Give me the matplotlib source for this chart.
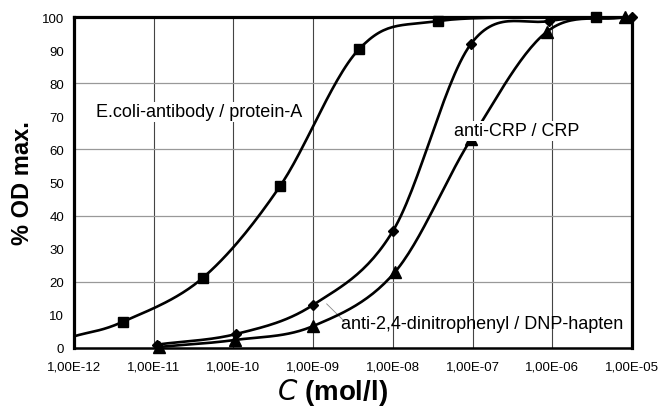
import matplotlib
matplotlib.use("Agg")
import matplotlib.pyplot as plt
import numpy as np

plt.rcParams['font.family'] = ['Liberation Sans', 'DejaVu Sans']

# data (x in mol/l, y in % OD max.)
ecoli_x = [1e-12, 4.1e-12, 4.1e-11, 3.85e-10, 3.77e-9, 3.7e-8, 3.5e-6]
ecoli_y = [3.5, 7.9, 21.1, 48.9, 90.3, 98.8, 100]

crp_x = [1.1e-11, 1.08e-10, 1.0e-9, 1.0e-8, 9.5e-8, 9.1e-7, 1e-5]
crp_y = [1.0, 4.2, 13.0, 35.3, 91.8, 98.8, 100]

dnp_x = [1.17e-11, 1.05e-10, 1.0e-9, 1.07e-8, 9.5e-8, 8.5e-7, 8.1e-6]
dnp_y = [0.3, 2.4, 6.6, 23.0, 63.0, 95.5, 100]

xticks = [1e-12, 1e-11, 1e-10, 1e-9, 1e-8, 1e-7, 1e-6, 1e-5]
xtick_labels = ["1,00E-12", "1,00E-11", "1,00E-10", "1,00E-09",
                "1,00E-08", "1,00E-07", "1,00E-06", "1,00E-05"]
yticks = list(range(0, 101, 10))
hgrid = [20, 40, 60, 80]


def smooth(xs, ys, n=30):
    # catmull-rom through the points, in log-x space
    lx = np.log10(xs)
    y = np.asarray(ys, dtype=float)
    px = np.concatenate([[2 * lx[0] - lx[1]], lx, [2 * lx[-1] - lx[-2]]])
    py = np.concatenate([[2 * y[0] - y[1]], y, [2 * y[-1] - y[-2]]])
    outx, outy = [], []
    t = np.linspace(0, 1, n)
    for i in range(1, len(px) - 2):
        for P, out in ((px, outx), (py, outy)):
            p0, p1, p2, p3 = P[i - 1], P[i], P[i + 1], P[i + 2]
            out.extend(0.5 * ((2 * p1) + (-p0 + p2) * t
                              + (2 * p0 - 5 * p1 + 4 * p2 - p3) * t ** 2
                              + (-p0 + 3 * p1 - 3 * p2 + p3) * t ** 3))
    return 10 ** np.array(outx), np.minimum(np.array(outy), 100)


fig = plt.figure(figsize=(6.63, 4.10), dpi=100)
ax = fig.add_axes([0.1116, 0.149, 0.8416, 0.807])

for v in xticks[1:-1]:
    ax.axvline(v, color='#444444', lw=0.8, zorder=1)
for v in hgrid:
    ax.axhline(v, color='#999999', lw=0.9, zorder=1)

# first E.coli point sits on the axis, no marker there
for xs, ys, m, ms, skip in ((ecoli_x, ecoli_y, 's', 7, 1),
                            (crp_x, crp_y, 'D', 5.5, 0),
                            (dnp_x, dnp_y, '^', 8, 0)):
    sx, sy = smooth(xs, ys)
    ax.plot(sx, sy, color='black', lw=1.9, zorder=3)
    ax.plot(xs[skip:], ys[skip:], ls='none', marker=m, ms=ms, color='black',
            zorder=4, clip_on=False)

ax.set_xscale('log')
ax.set_xlim(1e-12, 1e-5)
ax.set_ylim(0, 100)
ax.set_xticks(xticks)
ax.set_xticklabels(xtick_labels)
ax.minorticks_off()
ax.set_yticks(yticks)
ax.tick_params(length=0, labelsize=9.5)
ax.tick_params(axis='x', pad=9)
ax.tick_params(axis='y', pad=7)

for s in ax.spines.values():
    s.set_linewidth(2.3)
ax.spines['bottom'].set_linewidth(1.8)

lab = dict(fontsize=13, ha='center', va='center', zorder=5)
ax.text(3.7e-11, 71.3, "E.coli-antibody / protein-A",
        bbox=dict(facecolor='white', edgecolor='none', pad=1), **lab)
ax.text(3.6e-7, 65.6, "anti-CRP / CRP",
        bbox=dict(facecolor='white', edgecolor='none', pad=1), **lab)
ax.text(1.3e-7, 7.3, "anti-2,4-dinitrophenyl / DNP-hapten", **lab)
ax.plot([1.48e-9, 2.5e-9], [13.3, 7.9], color='#888888', lw=0.6, zorder=2)

ax.set_ylabel("% OD max.", fontsize=17, fontweight='bold', va='center')
ax.yaxis.set_label_coords(-0.093, 0.5)
ax.set_xlabel(r"$\it{C}$ (mol/l)", fontsize=20, fontweight='bold', va='center')
ax.xaxis.set_label_coords(0.464, -0.133)

fig.savefig("out.png", dpi=100)
